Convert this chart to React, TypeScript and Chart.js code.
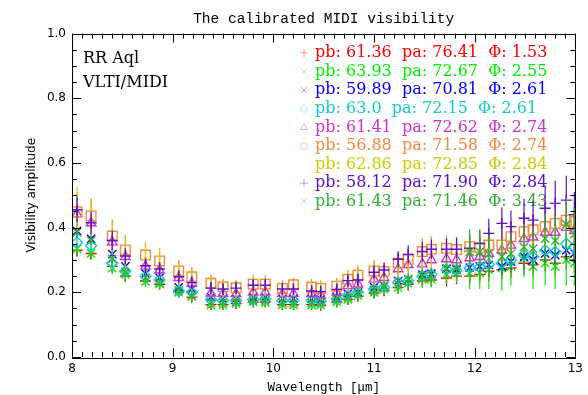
import React, { useEffect, useRef } from 'react';
import { Chart, registerables } from 'chart.js';
import { drawPoint } from 'chart.js/helpers';

Chart.register(...registerables);

const chartTitle = 'The calibrated MIDI visibility';
const xTitle = 'Wavelength [μm]';
const yTitle = 'Visibility amplitude';
const annotations = ['RR Aql', 'VLTI/MIDI'];

const wavelengths = [8.05, 8.19, 8.40, 8.53, 8.73, 8.87, 9.06, 9.19, 9.38, 9.50, 9.63, 9.80, 9.92, 10.09, 10.20, 10.38, 10.47, 10.63, 10.74, 10.84, 11.00, 11.10, 11.24, 11.34, 11.48, 11.57, 11.72, 11.82, 11.95, 12.05, 12.14, 12.27, 12.36, 12.49, 12.58, 12.70, 12.80, 12.91, 12.99];

const seriesLabels = [
  'pb: 61.36  pa: 76.41  Φ: 1.53',
  'pb: 63.93  pa: 72.67  Φ: 2.55',
  'pb: 59.89  pa: 70.81  Φ: 2.61',
  'pb: 63.0  pa: 72.15  Φ: 2.61',
  'pb: 61.41  pa: 72.62  Φ: 2.74',
  'pb: 56.88  pa: 71.58  Φ: 2.74',
  'pb: 62.86  pa: 72.85  Φ: 2.84',
  'pb: 58.12  pa: 71.90  Φ: 2.84',
  'pb: 61.43  pa: 71.46  Φ: 3.43',
];
const seriesColors = ['#ff0000', '#00ee00', '#0000ff', '#10cccc', '#cc33cc', '#f28a3e', '#cccc00', '#6010cc', '#30b030'];
const seriesSymbols = ['cross', 'crossRot', 'crossRot', 'rectRot', 'triangle', 'rect', 'circle', 'cross', 'crossRot'];
const seriesRadii = [5.5, 5.8, 5.8, 5.5, 5.5, 6.8, 0.8, 5.5, 5.8];

const vRed = [0.330, 0.320, 0.280, 0.250, 0.235, 0.225, 0.200, 0.185, 0.162, 0.162, 0.165, 0.170, 0.170, 0.162, 0.162, 0.162, 0.160, 0.170, 0.178, 0.188, 0.198, 0.205, 0.215, 0.225, 0.235, 0.238, 0.244, 0.250, 0.250, 0.255, 0.265, 0.270, 0.275, 0.290, 0.285, 0.300, 0.290, 0.310, 0.300];
const vLime = [0.334, 0.320, 0.275, 0.255, 0.234, 0.225, 0.200, 0.187, 0.160, 0.160, 0.165, 0.170, 0.168, 0.160, 0.160, 0.160, 0.160, 0.170, 0.178, 0.190, 0.200, 0.210, 0.215, 0.228, 0.240, 0.240, 0.256, 0.260, 0.260, 0.260, 0.270, 0.275, 0.280, 0.306, 0.280, 0.290, 0.280, 0.300, 0.290];
const vBlue = [0.390, 0.365, 0.318, 0.280, 0.258, 0.245, 0.215, 0.210, 0.185, 0.180, 0.180, 0.185, 0.185, 0.180, 0.180, 0.180, 0.178, 0.185, 0.195, 0.200, 0.215, 0.220, 0.235, 0.240, 0.255, 0.258, 0.272, 0.270, 0.276, 0.280, 0.285, 0.280, 0.295, 0.310, 0.300, 0.320, 0.315, 0.330, 0.320];
const vCyan = [0.354, 0.344, 0.290, 0.265, 0.250, 0.238, 0.205, 0.200, 0.178, 0.175, 0.175, 0.178, 0.180, 0.175, 0.175, 0.175, 0.172, 0.180, 0.190, 0.200, 0.210, 0.215, 0.230, 0.235, 0.250, 0.255, 0.270, 0.268, 0.275, 0.278, 0.287, 0.290, 0.300, 0.315, 0.310, 0.330, 0.325, 0.350, 0.340];
const vMagenta = [0.442, 0.414, 0.355, 0.310, 0.280, 0.268, 0.245, 0.228, 0.197, 0.196, 0.195, 0.200, 0.200, 0.195, 0.195, 0.195, 0.190, 0.200, 0.220, 0.225, 0.240, 0.245, 0.272, 0.285, 0.287, 0.300, 0.303, 0.300, 0.306, 0.310, 0.320, 0.330, 0.345, 0.365, 0.370, 0.385, 0.385, 0.400, 0.390];
const vOrange = [0.449, 0.436, 0.374, 0.331, 0.315, 0.297, 0.266, 0.248, 0.228, 0.217, 0.214, 0.225, 0.225, 0.212, 0.223, 0.216, 0.212, 0.219, 0.240, 0.253, 0.266, 0.264, 0.290, 0.302, 0.326, 0.333, 0.336, 0.332, 0.341, 0.338, 0.346, 0.346, 0.372, 0.387, 0.393, 0.403, 0.413, 0.423, 0.418];
const vYellow = [0.455, 0.430, 0.370, 0.325, 0.305, 0.290, 0.260, 0.240, 0.220, 0.210, 0.208, 0.215, 0.218, 0.205, 0.212, 0.208, 0.205, 0.212, 0.232, 0.245, 0.258, 0.256, 0.282, 0.292, 0.315, 0.322, 0.325, 0.322, 0.330, 0.328, 0.336, 0.338, 0.360, 0.375, 0.380, 0.390, 0.400, 0.410, 0.405];
const vPurple = [0.455, 0.415, 0.360, 0.312, 0.282, 0.272, 0.248, 0.230, 0.213, 0.210, 0.213, 0.222, 0.222, 0.210, 0.210, 0.204, 0.202, 0.209, 0.236, 0.238, 0.262, 0.269, 0.302, 0.317, 0.326, 0.333, 0.333, 0.333, 0.336, 0.351, 0.382, 0.413, 0.403, 0.429, 0.423, 0.460, 0.475, 0.485, 0.440];
const vDkGreen = [0.385, 0.360, 0.303, 0.262, 0.245, 0.230, 0.205, 0.190, 0.168, 0.168, 0.170, 0.175, 0.175, 0.168, 0.168, 0.168, 0.168, 0.178, 0.184, 0.197, 0.206, 0.219, 0.225, 0.240, 0.250, 0.252, 0.275, 0.275, 0.325, 0.325, 0.318, 0.310, 0.320, 0.340, 0.335, 0.366, 0.360, 0.410, 0.380];

const eRed = [0.020, 0.020, 0.020, 0.015, 0.015, 0.015, 0.015, 0.012, 0.012, 0.012, 0.012, 0.012, 0.012, 0.012, 0.012, 0.012, 0.012, 0.012, 0.015, 0.015, 0.015, 0.015, 0.020, 0.020, 0.020, 0.020, 0.025, 0.025, 0.025, 0.025, 0.030, 0.030, 0.030, 0.035, 0.035, 0.035, 0.040, 0.040, 0.040];
const eLime = [0.020, 0.020, 0.020, 0.020, 0.015, 0.015, 0.015, 0.015, 0.012, 0.012, 0.012, 0.012, 0.012, 0.012, 0.012, 0.012, 0.012, 0.015, 0.015, 0.015, 0.015, 0.020, 0.020, 0.020, 0.025, 0.025, 0.030, 0.030, 0.050, 0.050, 0.060, 0.070, 0.060, 0.060, 0.070, 0.070, 0.070, 0.080, 0.070];
const eBlue = [0.020, 0.020, 0.018, 0.015, 0.015, 0.012, 0.012, 0.012, 0.010, 0.010, 0.010, 0.010, 0.010, 0.010, 0.010, 0.010, 0.010, 0.010, 0.012, 0.012, 0.012, 0.012, 0.015, 0.015, 0.015, 0.015, 0.020, 0.020, 0.020, 0.020, 0.022, 0.022, 0.025, 0.025, 0.025, 0.028, 0.028, 0.030, 0.030];
const eCyan = [0.020, 0.020, 0.018, 0.015, 0.015, 0.012, 0.012, 0.012, 0.010, 0.010, 0.010, 0.010, 0.010, 0.010, 0.010, 0.010, 0.010, 0.010, 0.012, 0.012, 0.012, 0.012, 0.015, 0.015, 0.015, 0.015, 0.020, 0.020, 0.020, 0.020, 0.022, 0.022, 0.025, 0.025, 0.025, 0.028, 0.028, 0.030, 0.030];
const eMagenta = [0.025, 0.025, 0.022, 0.020, 0.020, 0.018, 0.015, 0.015, 0.012, 0.012, 0.012, 0.012, 0.012, 0.012, 0.012, 0.012, 0.012, 0.012, 0.015, 0.015, 0.018, 0.018, 0.020, 0.020, 0.022, 0.022, 0.025, 0.025, 0.025, 0.025, 0.028, 0.028, 0.030, 0.030, 0.030, 0.035, 0.035, 0.035, 0.035];
const eOrange = [0.060, 0.055, 0.050, 0.045, 0.040, 0.040, 0.035, 0.030, 0.028, 0.025, 0.025, 0.028, 0.028, 0.025, 0.022, 0.025, 0.025, 0.025, 0.030, 0.030, 0.035, 0.030, 0.035, 0.040, 0.040, 0.040, 0.040, 0.040, 0.040, 0.040, 0.040, 0.045, 0.050, 0.050, 0.050, 0.050, 0.050, 0.050, 0.050];
const eYellow = [0.070, 0.060, 0.055, 0.050, 0.045, 0.045, 0.040, 0.035, 0.030, 0.028, 0.028, 0.030, 0.030, 0.028, 0.025, 0.028, 0.028, 0.028, 0.032, 0.032, 0.038, 0.035, 0.040, 0.045, 0.045, 0.045, 0.045, 0.045, 0.045, 0.045, 0.045, 0.050, 0.055, 0.055, 0.055, 0.055, 0.055, 0.055, 0.055];
const ePurple = [0.040, 0.035, 0.030, 0.025, 0.022, 0.022, 0.020, 0.020, 0.018, 0.018, 0.018, 0.018, 0.018, 0.018, 0.018, 0.018, 0.018, 0.018, 0.020, 0.020, 0.022, 0.022, 0.025, 0.028, 0.030, 0.030, 0.035, 0.035, 0.040, 0.040, 0.045, 0.050, 0.050, 0.060, 0.060, 0.070, 0.070, 0.075, 0.070];
const eDkGreen = [0.015, 0.015, 0.015, 0.012, 0.012, 0.012, 0.012, 0.010, 0.010, 0.010, 0.010, 0.010, 0.010, 0.010, 0.010, 0.010, 0.010, 0.012, 0.012, 0.015, 0.015, 0.018, 0.020, 0.020, 0.025, 0.025, 0.030, 0.030, 0.070, 0.070, 0.060, 0.055, 0.060, 0.065, 0.065, 0.075, 0.075, 0.080, 0.080];

const seriesValues = [vRed, vLime, vBlue, vCyan, vMagenta, vOrange, vYellow, vPurple, vDkGreen];
const seriesErrors = [eRed, eLime, eBlue, eCyan, eMagenta, eOrange, eYellow, ePurple, eDkGreen];

const errorBarPlugin = {
  id: 'errorBars',
  beforeDatasetDraw(chart: any, args: any) {
    const ds = chart.data.datasets[args.index];
    const errs: number[] = ds.errors;
    if (!errs) return;
    const { ctx, chartArea } = chart;
    const xs = chart.scales.x;
    const ys = chart.scales.y;
    ctx.save();
    ctx.beginPath();
    ctx.rect(chartArea.left, chartArea.top, chartArea.right - chartArea.left, chartArea.bottom - chartArea.top);
    ctx.clip();
    ctx.strokeStyle = ds.borderColor;
    ctx.lineWidth = 1.2;
    ds.data.forEach((p: any, i: number) => {
      const x = xs.getPixelForValue(p.x);
      const y1 = ys.getPixelForValue(p.y - errs[i]);
      const y2 = ys.getPixelForValue(p.y + errs[i]);
      ctx.beginPath();
      ctx.moveTo(x, y1);
      ctx.lineTo(x, y2);
      ctx.stroke();
    });
    ctx.restore();
  },
};

const frameTicksPlugin = {
  id: 'frameTicks',
  afterDatasetsDraw(chart: any) {
    const { ctx, chartArea } = chart;
    const xs = chart.scales.x;
    const ys = chart.scales.y;
    const { left, right, top, bottom } = chartArea;
    ctx.save();
    ctx.strokeStyle = '#000';
    ctx.lineWidth = 1;
    ctx.strokeRect(Math.round(left) + 0.5, Math.round(top) + 0.5, Math.round(right - left), Math.round(bottom - top));
    for (let k = 0; k <= 50; k++) {
      const x = Math.round(xs.getPixelForValue(8 + k / 10)) + 0.5;
      const len = k % 10 === 0 ? 9 : 5;
      ctx.beginPath();
      ctx.moveTo(x, bottom);
      ctx.lineTo(x, bottom - len);
      ctx.moveTo(x, top);
      ctx.lineTo(x, top + len);
      ctx.stroke();
    }
    for (let k = 0; k <= 20; k++) {
      const y = Math.round(ys.getPixelForValue(k / 20)) + 0.5;
      const len = k % 4 === 0 ? 9 : 5;
      ctx.beginPath();
      ctx.moveTo(left, y);
      ctx.lineTo(left + len, y);
      ctx.moveTo(right, y);
      ctx.lineTo(right - len, y);
      ctx.stroke();
    }
    ctx.restore();
  },
};

const legendTextPlugin = {
  id: 'legendText',
  beforeDatasetsDraw(chart: any) {
    const { ctx, chartArea } = chart;
    ctx.save();
    ctx.textBaseline = 'middle';
    ctx.textAlign = 'center';
    ctx.fillStyle = '#000';
    ctx.font = '14.5px "Liberation Mono"';
    ctx.fillText(chartTitle, (chartArea.left + chartArea.right) / 2, 19.5);
    ctx.textAlign = 'left';
    ctx.font = '16px "DejaVu Serif"';
    ctx.fillText(annotations[0], 83, 59);
    ctx.fillText(annotations[1], 83, 83);
    seriesLabels.forEach((label, i) => {
      const y = 53 + i * 18.6;
      ctx.strokeStyle = seriesColors[i];
      ctx.fillStyle = 'rgba(0,0,0,0)';
      ctx.globalAlpha = 0.55;
      ctx.lineWidth = 0.7;
      if (seriesSymbols[i] !== 'circle') {
        drawPoint(ctx, { pointStyle: seriesSymbols[i], radius: 4, rotation: 0, borderWidth: 0.7 } as any, 304, y);
      }
      ctx.globalAlpha = 1;
      ctx.fillStyle = seriesColors[i];
      ctx.fillText(label, 315, y);
    });
    ctx.restore();
  },
};

export default function App() {
  const ref = useRef<HTMLCanvasElement | null>(null);
  useEffect(() => {
    if (!ref.current) return;
    const datasets = seriesValues.map((vals, i) => ({
      label: seriesLabels[i],
      data: wavelengths.map((w, j) => ({ x: w, y: vals[j] })),
      errors: seriesErrors[i],
      borderColor: seriesColors[i],
      backgroundColor: seriesSymbols[i] === 'circle' ? seriesColors[i] : 'rgba(0,0,0,0)',
      pointStyle: seriesSymbols[i],
      pointRadius: seriesRadii[i],
      pointBorderWidth: 1.4,
      showLine: false,
      order: 9 - i,
    }));
    const chart = new Chart(ref.current, {
      type: 'scatter',
      data: { datasets } as any,
      plugins: [errorBarPlugin, frameTicksPlugin, legendTextPlugin],
      options: {
        animation: false,
        responsive: false,
        devicePixelRatio: 1,
        layout: { padding: { left: 0, right: 11, top: 33.5, bottom: 0 } },
        plugins: {
          legend: { display: false },
          tooltip: { enabled: false },
          title: { display: false },
        },
        scales: {
          x: {
            type: 'linear',
            min: 8,
            max: 13,
            grid: { display: false, drawTicks: false },
            border: { display: false },
            ticks: {
              stepSize: 1,
              padding: 5,
              color: '#000',
              font: { family: 'DejaVu Sans', size: 12 },
              callback: (v: any) => String(v),
            },
            title: {
              display: true,
              text: xTitle,
              color: '#000',
              font: { family: 'Liberation Mono', size: 12.5 },
              padding: { top: 7, bottom: 0 },
            },
            afterFit: (s: any) => { s.height = 38; },
          },
          y: {
            type: 'linear',
            min: 0,
            max: 1,
            grid: { display: false, drawTicks: false },
            border: { display: false },
            ticks: {
              stepSize: 0.2,
              padding: 6,
              color: '#000',
              font: { family: 'DejaVu Sans', size: 12 },
              callback: (v: any) => Number(v).toFixed(1),
            },
            title: {
              display: true,
              text: yTitle,
              color: '#000',
              font: { family: 'DejaVu Sans', size: 12 },
              padding: { top: 25, bottom: 0 },
            },
            afterFit: (s: any) => { s.width = 72; },
          },
        },
      } as any,
    });
    return () => chart.destroy();
  }, []);
  return (
    <div style={{ position: 'fixed', left: 0, top: 0, width: 588, height: 395, background: '#fff' }}>
      <canvas ref={ref} width={588} height={395} style={{ width: 588, height: 395 }} />
    </div>
  );
}
